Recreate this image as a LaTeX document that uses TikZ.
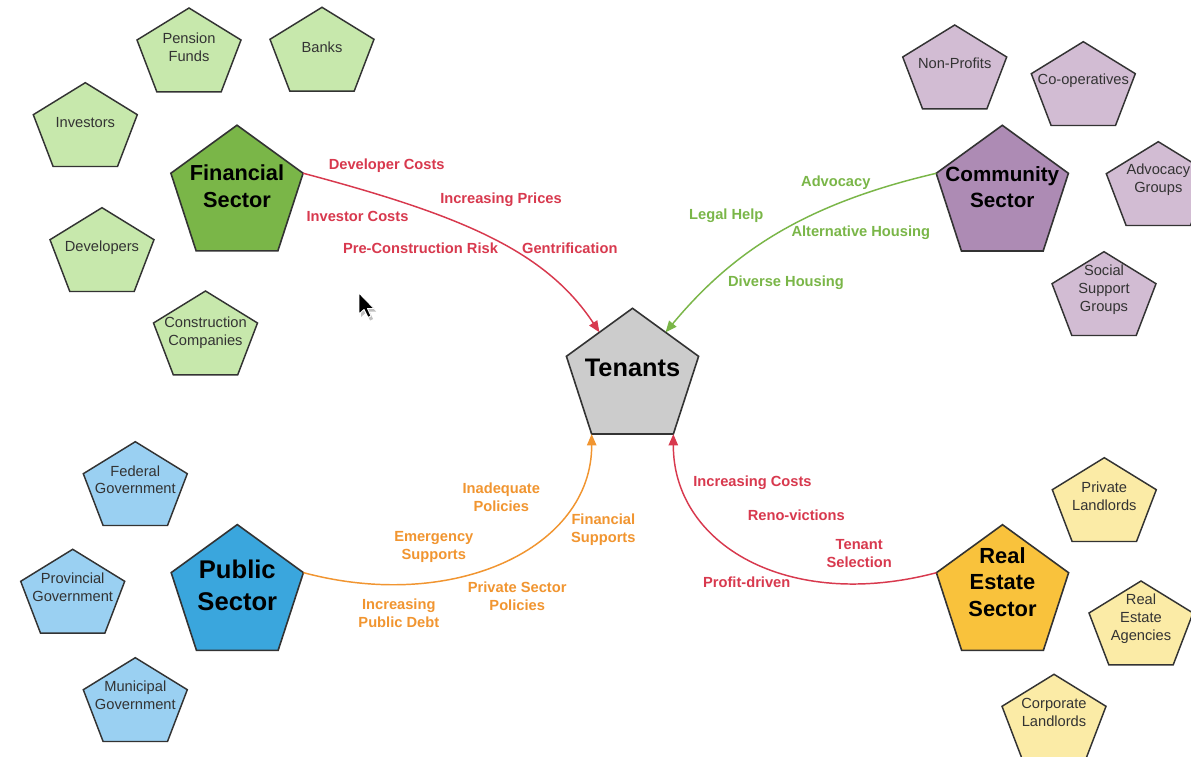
\documentclass[tikz,border=0pt]{standalone}
\usepackage{fontspec}
\setmainfont{Liberation Sans}
\usetikzlibrary{shapes.geometric,arrows.meta}
\definecolor{pborder}{HTML}{333333}
\definecolor{txtgray}{HTML}{333333}
\definecolor{fingreen}{HTML}{7AB648}
\definecolor{lgreen}{HTML}{C7E8AC}
\definecolor{compurple}{HTML}{AD8BB4}
\definecolor{lpurple}{HTML}{D2BCD3}
\definecolor{pubblue}{HTML}{3AA6DD}
\definecolor{lblue}{HTML}{9AD0F2}
\definecolor{reyellow}{HTML}{F9C23C}
\definecolor{lyellow}{HTML}{FBEBA6}
\definecolor{tengray}{HTML}{CCCCCC}
\definecolor{edgered}{HTML}{D8394E}
\definecolor{edgegreen}{HTML}{7AB648}
\definecolor{edgeorange}{HTML}{F19530}
\begin{document}
\begin{tikzpicture}[x=0.75pt,y=-0.75pt,
  bigp/.style={regular polygon, regular polygon sides=5, minimum size=104.25pt,
    inner sep=0pt, outer sep=0pt, draw=pborder, line width=1.2pt},
  btxt/.style={align=center, inner sep=0pt, text=black},
  stxt/.style={font=\fontsize{11}{13.4}\selectfont, text=txtgray, align=center, inner sep=0pt},
  elab/.style={font=\bfseries\fontsize{11}{13.3}\selectfont, align=center, inner sep=0pt},
  conn/.style={line width=1.1pt, -{Triangle[length=8.5pt,width=7pt]}},
  spent/.pic={\path[draw=pborder, line width=1.1pt, line join=miter, fill=#1]
    (0,-46.3) -- (52,-14.3) -- (32.2,37.5) -- (-32.2,37.5) -- (-52,-14.3) -- cycle;}
]
\useasboundingbox[fill=white] (0,0) rectangle (1191,756);

% ---------- Financial sector ----------
\pic at (189,54.3) {spent=lgreen};
\node[stxt] (pension) at (189,47) {Pension\\Funds};
\pic at (322,53.6) {spent=lgreen};
\node[stxt] (banks) at (322,47.4) {Banks};
\pic at (85.3,129) {spent=lgreen};
\node[stxt] (investors) at (85.3,123) {Investors};
\pic at (102,254) {spent=lgreen};
\node[stxt] (developers) at (102,247.5) {Developers};
\pic at (205.5,337.3) {spent=lgreen};
\node[stxt] (construction) at (205.5,332.7) {Construction\\Companies};
\node[bigp, fill=fingreen] (fin) at (237,194.7) {};
\node[btxt, font=\bfseries\fontsize{16.3}{20}\selectfont] (fin-t) at (237,186.5) {Financial\\Sector};

% ---------- Community sector ----------
\pic at (954.7,71.3) {spent=lpurple};
\node[stxt] (nonprofits) at (954.7,63.7) {Non-Profits};
\pic at (1083.3,88) {spent=lpurple};
\node[stxt] (coops) at (1083.3,81) {Co-operatives};
\pic at (1158.3,188) {spent=lpurple};
\node[stxt] (advgroups) at (1158.3,180) {Advocacy\\Groups};
\pic at (1104,298) {spent=lpurple};
\node[stxt] (social) at (1104,289.5) {Social\\Support\\Groups};
\node[bigp, fill=compurple] (com) at (1002.3,194.8) {};
\node[btxt, font=\bfseries\fontsize{15.5}{19}\selectfont] (com-t) at (1002.3,187) {Community\\Sector};

% ---------- Public sector ----------
\pic at (135.3,488) {spent=lblue};
\node[stxt] (federal) at (135.3,479.7) {Federal\\Government};
\pic at (72.7,595.6) {spent=lblue};
\node[stxt] (provincial) at (72.7,587) {Provincial\\Government};
\pic at (135.3,704) {spent=lblue};
\node[stxt] (municipal) at (135.3,695.5) {Municipal\\Government};
\node[bigp, fill=pubblue] (pub) at (237.3,594.1) {};
\node[btxt, font=\bfseries\fontsize{19.2}{23.8}\selectfont] (pub-t) at (237.3,585) {Public\\Sector};

% ---------- Real estate sector ----------
\pic at (1104.3,504) {spent=lyellow};
\node[stxt] (privland) at (1104.3,496) {Private\\Landlords};
\pic at (1141,627.3) {spent=lyellow};
\node[stxt] (agencies) at (1141,619) {Real\\Estate\\Agencies};
\pic at (1054,720.6) {spent=lyellow};
\node[stxt] (corpland) at (1054,712.6) {Corporate\\Landlords};
\node[bigp, fill=reyellow] (rea) at (1002.5,594.2) {};
\node[btxt, font=\bfseries\fontsize{16.4}{20}\selectfont] (rea-t) at (1002.5,582) {Real\\Estate\\Sector};

% ---------- Tenants ----------
\node[bigp, fill=tengray] (ten) at (632.5,377.8) {};
\node[btxt, font=\bfseries\fontsize{19}{23}\selectfont] (ten-t) at (632.5,368) {Tenants};

% ---------- Connectors ----------
\draw[conn, edgered] (fin.18) .. controls (460,215) and (545,250) .. (ten.126);
\draw[conn, edgegreen] (com.162) .. controls (800,205) and (730,255) .. (ten.54);
\draw[conn, edgeorange] (pub.18) .. controls (454,613) and (592,548) .. (ten.234);
\draw[conn, edgered] (rea.162) .. controls (787,612) and (673,544) .. (ten.306);

% ---------- Edge labels ----------
\begin{scope}[every node/.append style={elab, text=edgered}]
\node (l-devcost) at (386.7,165.7) {Developer Costs};
\node (l-incprice) at (501,200) {Increasing Prices};
\node (l-invcost) at (357.5,216) {Investor Costs};
\node (l-precon) at (420.5,248.3) {Pre-Construction Risk};
\node (l-gentr) at (569.8,248.3) {Gentrification};
\node (l-inccost) at (752.5,482.3) {Increasing Costs};
\node (l-reno) at (796.3,515.7) {Reno-victions};
\node (l-tensel) at (859.2,553.5) {Tenant\\Selection};
\node (l-profit) at (746.7,582.3) {Profit-driven};
\end{scope}
\begin{scope}[every node/.append style={elab, text=edgegreen}]
\node (l-advocacy) at (835.8,182.7) {Advocacy};
\node (l-legal) at (726.3,216) {Legal Help};
\node (l-alt) at (860.8,232.7) {Alternative Housing};
\node (l-diverse) at (786,282.7) {Diverse Housing};
\end{scope}
\begin{scope}[every node/.append style={elab, text=edgeorange}]
\node (l-inadeq) at (501.3,497) {Inadequate\\Policies};
\node (l-emerg) at (433.8,547) {Emergency\\Supports};
\node (l-finsup) at (603.3,530) {Financial\\Supports};
\node (l-privsec) at (517.2,596.3) {Private Sector\\Policies};
\node (l-debt) at (398.8,613) {Increasing\\Public Debt};
\end{scope}

% ---------- Mouse cursor ----------
\fill[black, opacity=0.25] (361,296) -- (361,317) -- (366,312.5) -- (370,320.5) -- (373,319) -- (369.5,311.5) -- (376,311.5) -- cycle;
\path[fill=black, draw=white, line width=0.7pt, line join=round]
  (359,293) -- (359,314) -- (364,309.5) -- (368,317.5) -- (371,316) -- (367.5,308.5) -- (374,308.5) -- cycle;
\end{tikzpicture}
\end{document}
